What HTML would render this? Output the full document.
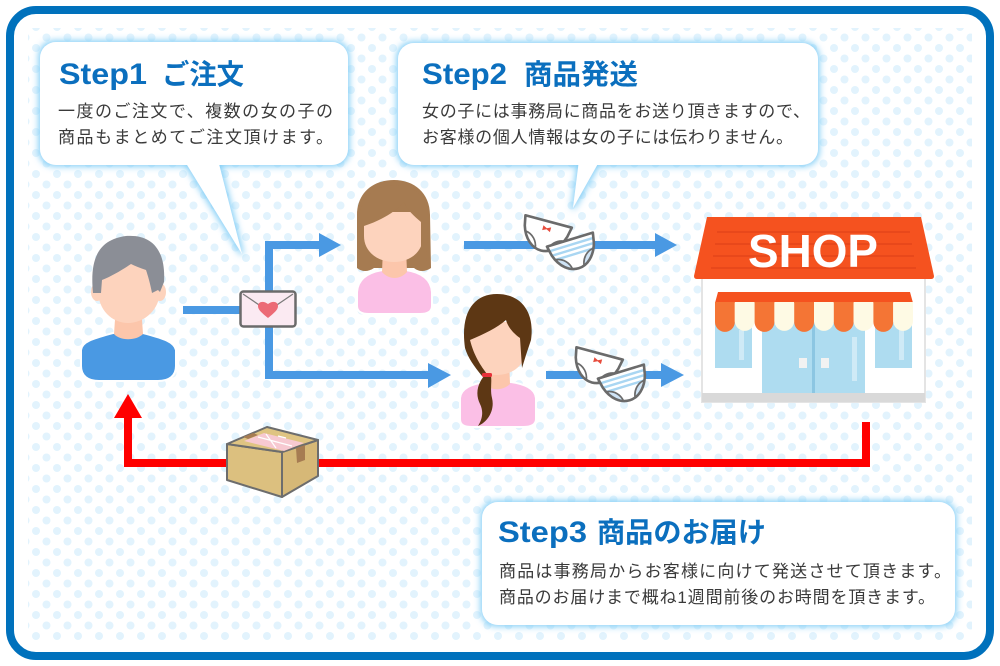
<!DOCTYPE html>
<html><head><meta charset="utf-8">
<style>
html,body{margin:0;padding:0;background:#fff;}
svg{display:block;}
.t{font-family:"Liberation Sans","Noto Sans CJK JP",sans-serif;}
.ttl{fill:#0b6fbe;font-weight:700;}
.bd{fill:#3a3a3a;font-size:17px;font-family:"Liberation Sans","Noto Sans CJK JP",sans-serif;}
</style></head>
<body>
<svg width="1000" height="666" viewBox="0 0 1000 666" xmlns="http://www.w3.org/2000/svg">
<defs>
  <pattern id="dots" x="0" y="0" width="21" height="21" patternUnits="userSpaceOnUse">
    <circle cx="15" cy="6" r="4" fill="#e2f3fd"/>
    <circle cx="4.5" cy="16.5" r="4" fill="#e2f3fd"/>
  </pattern>
  <filter id="glow" x="-10%" y="-20%" width="120%" height="140%">
    <feMorphology in="SourceAlpha" operator="dilate" radius="1.5" result="d"/>
    <feGaussianBlur in="d" stdDeviation="3.5" result="b"/>
    <feFlood flood-color="#7fcdf6"/>
    <feComposite in2="b" operator="in" result="g"/>
    <feMerge><feMergeNode in="g"/><feMergeNode in="SourceGraphic"/></feMerge>
  </filter>
  <clipPath id="pbc"><path d="M-24,-14 L24,-14 L22,-4 C18,9 9,16 0,16 C-9,16 -18,9 -22,-4 Z"/></clipPath>
  <g id="pw">
    <path d="M-24,-14 L24,-14 L22,-4 C18,9 9,16 0,16 C-9,16 -18,9 -22,-4 Z" fill="#fff" stroke="#6b6b6b" stroke-width="2.6" stroke-linejoin="round"/>
    <path d="M-20,1 C-12,2 -7,8 -6,15" fill="none" stroke="#6b6b6b" stroke-width="1.7"/>
    <path d="M20,1 C12,2 7,8 6,15" fill="none" stroke="#6b6b6b" stroke-width="1.7"/>
  </g>
  <g id="pb">
    <path d="M-24,-14 L24,-14 L22,-4 C18,9 9,16 0,16 C-9,16 -18,9 -22,-4 Z" fill="#fff"/>
    <g clip-path="url(#pbc)">
      <rect x="-25" y="-10" width="50" height="2.4" fill="#a9d6f2"/>
      <rect x="-25" y="-5" width="50" height="2.4" fill="#a9d6f2"/>
      <rect x="-25" y="0" width="50" height="2.4" fill="#a9d6f2"/>
      <path d="M-23,2 C-12,2 -7,8 -6,17 L6,17 C7,8 12,2 23,2 L23,18 L-23,18 Z" fill="#cfe4f6"/>
    </g>
    <path d="M-24,-14 L24,-14 L22,-4 C18,9 9,16 0,16 C-9,16 -18,9 -22,-4 Z" fill="none" stroke="#6b6b6b" stroke-width="2.6" stroke-linejoin="round"/>
    <path d="M-20,1 C-12,2 -7,8 -6,15" fill="none" stroke="#6b6b6b" stroke-width="1.7"/>
    <path d="M20,1 C12,2 7,8 6,15" fill="none" stroke="#6b6b6b" stroke-width="1.7"/>
  </g>
</defs>

<!-- frame -->
<rect x="10" y="10" width="980" height="646" rx="26" ry="26" fill="#fff" stroke="#0071bc" stroke-width="8"/>
<rect x="28" y="28" width="944" height="612" fill="url(#dots)"/>

<!-- Step1 bubble -->
<g filter="url(#glow)">
  <rect x="40" y="42" width="308" height="123" rx="16" ry="16" fill="#fff"/>
  <path d="M184,160 L218,160 L242,254 Z" fill="#fff"/>
</g>
<!-- Step2 bubble -->
<g filter="url(#glow)">
  <rect x="398" y="43" width="420" height="122" rx="16" ry="16" fill="#fff"/>
  <path d="M579,160 L600,160 L573,208 Z" fill="#fff"/>
</g>
<!-- Step3 bubble -->
<g filter="url(#glow)">
  <rect x="482" y="502" width="473" height="123" rx="16" ry="16" fill="#fff"/>
</g>

<!-- texts -->
<text class="t ttl" x="59" y="84" font-size="30" textLength="88" lengthAdjust="spacingAndGlyphs">Step1</text>
<text class="t ttl" x="162" y="84" font-size="28" textLength="82" lengthAdjust="spacingAndGlyphs">ご注文</text>
<text class="bd" x="58" y="117" textLength="275" lengthAdjust="spacing">一度のご注文で、複数の女の子の</text>
<text class="bd" x="58" y="143" textLength="275" lengthAdjust="spacing">商品もまとめてご注文頂けます。</text>

<text class="t ttl" x="422" y="84" font-size="30" textLength="85" lengthAdjust="spacingAndGlyphs">Step2</text>
<text class="t ttl" x="524" y="84" font-size="28" textLength="114" lengthAdjust="spacingAndGlyphs">商品発送</text>
<text class="bd" x="422" y="117" textLength="388" lengthAdjust="spacing">女の子には事務局に商品をお送り頂きますので、</text>
<text class="bd" x="422" y="143" textLength="371" lengthAdjust="spacing">お客様の個人情報は女の子には伝わりません。</text>

<text class="t ttl" x="498" y="542" font-size="30" textLength="89" lengthAdjust="spacingAndGlyphs">Step3</text>
<text class="t ttl" x="597" y="542" font-size="28" textLength="169" lengthAdjust="spacingAndGlyphs">商品のお届け</text>
<text class="bd" x="499" y="577" textLength="452" lengthAdjust="spacing">商品は事務局からお客様に向けて発送させて頂きます。</text>
<text class="bd" x="499" y="603" textLength="436" lengthAdjust="spacing">商品のお届けまで概ね1週間前後のお時間を頂きます。</text>

<!-- blue connectors -->
<g fill="#4a99e3">
  <rect x="183" y="306" width="60" height="8"/>
  <rect x="265" y="241" width="8" height="138"/>
  <rect x="265" y="241" width="56" height="8"/>
  <polygon points="319,233 341,245 319,257"/>
  <rect x="265" y="371" width="166" height="8"/>
  <polygon points="428,363 451,375 428,388"/>
  <rect x="464" y="241" width="193" height="8"/>
  <polygon points="655,233 677,245 655,257"/>
  <rect x="546" y="371" width="117" height="8"/>
  <polygon points="661,363 684,375 661,387"/>
</g>

<!-- red connector -->
<g fill="#ff0000">
  <rect x="862" y="422" width="8" height="45"/>
  <rect x="124" y="459" width="746" height="8"/>
  <rect x="124" y="414" width="8" height="53"/>
  <polygon points="114,418 128,394 142,418"/>
</g>

<!-- envelope -->
<rect x="240.5" y="291.5" width="55" height="35" rx="3" fill="#fbeaf2" stroke="#6b6b6b" stroke-width="2.5"/>
<path d="M243,294 L268,311 L293,294" fill="none" stroke="#7a7a7a" stroke-width="1.2"/>
<path d="M268,318 C262,313 258,310 258,306 C258,302 263,300 268,304 C273,300 278,302 278,306 C278,310 274,313 268,318 Z" fill="#ec6a76"/>

<!-- man -->
<g>
  <path d="M81,350 C82,341 95,338 113,333 L143,333 C161,338 174,341 176,350 L176,366 C176,376 169,381 158,381 L99,381 C88,381 81,376 81,366 Z" fill="#4a99e3" stroke="#fff" stroke-width="2"/>
  <path d="M116,305 L141,305 L143,334 C136,341 120,341 114,334 Z" fill="#fcc6ab"/>
  <ellipse cx="97" cy="292" rx="6" ry="9" fill="#fdd3bd"/>
  <ellipse cx="160" cy="292" rx="6" ry="9" fill="#fdd3bd"/>
  <path d="M98,260 L160,260 L160,290 C160,310 144,323 128,323 C112,323 98,310 98,290 Z" fill="#fdd3bd"/>
  <path d="M93,293 C90,262 96,240 126,236 C152,234 166,250 164,282 L160,292 L158,290 L152,293 C150,283 148,276 146,270 C140,268 135,266 131,264 C122,270 112,276 102,280 L101,293 Z" fill="#8b8e96"/>
</g>

<!-- girl 1 -->
<g>
  <path d="M357,268 L357,215 C357,193 373,180 394,180 C414,180 430,193 430,215 L431,268 C425,272 419,272 414,268 L374,268 C368,272 362,272 357,268 Z" fill="#a67b51"/>
  <path d="M357,292 C358,278 370,272 383,270 L406,270 C419,272 431,278 432,292 L432,306 C432,311 428,314 420,314 L369,314 C361,314 357,311 357,306 Z" fill="#fbbfe6" stroke="#fff" stroke-width="2"/>
  <path d="M383,248 L406,248 L407,272 C400,280 389,280 382,272 Z" fill="#fcc6ab"/>
  <path d="M364,212 L423,212 L423,236 C423,252 410,262 394,262 C378,262 364,252 364,236 Z" fill="#fdd3bd"/>
  <path d="M358,236 C356,205 368,186 394,185 C418,185 430,200 428,225 L426,262 L421,262 L421,222 C414,216 407,210 404,202 C395,212 382,220 364,226 L363,238 Z" fill="#a67b51"/>
</g>

<!-- girl 2 -->
<g>
  <path d="M460,398 C461,388 472,384 485,382 L511,382 C524,384 535,388 536,398 L536,419 C536,425 531,427 523,427 L472,427 C464,427 460,425 460,419 Z" fill="#fbbfe6" stroke="#fff" stroke-width="2"/>
  <path d="M485,358 L509,358 L510,384 C503,391 491,391 484,384 Z" fill="#fcc6ab"/>
  <path d="M467,322 L527,322 L527,346 C527,363 514,375 497,375 C480,375 467,363 467,346 Z" fill="#fdd3bd"/>
  <path d="M465,348 C460,312 474,294 497,294 C521,294 535,312 531,340 L526,355 L522,368 L520,338 C513,333 508,327 506,320 C497,328 484,334 470,340 C474,356 481,366 487,374 L482,376 C474,366 468,358 465,348 Z" fill="#5d3714"/>
  <path d="M484,376 C476,386 476,396 480,404 C484,412 482,420 478,426 C488,422 495,410 492,398 C490,390 492,382 491,376 Z" fill="#5d3714"/>
  <rect x="482" y="373" width="10" height="4" rx="1.5" fill="#e8323a"/>
</g>

<!-- panties pair 1 -->
<g transform="translate(545,235) rotate(15)"><use href="#pw"/><path d="M-4,-9 L0,-7 L4,-9 L4,-4 L0,-6 L-4,-4 Z" fill="#e74c3c"/></g>
<g transform="translate(574,253) rotate(-17)"><use href="#pb"/></g>
<!-- panties pair 2 -->
<g transform="translate(596,367) rotate(15)"><use href="#pw"/><path d="M-4,-9 L0,-7 L4,-9 L4,-4 L0,-6 L-4,-4 Z" fill="#e74c3c"/></g>
<g transform="translate(625,385) rotate(-17)"><use href="#pb"/></g>

<!-- box -->
<g stroke="#6d6d6d" stroke-width="2" stroke-linejoin="round">
  <polygon points="227,444 282,452 282,497 227,480" fill="#dcc07f"/>
  <polygon points="282,452 318,440 318,476 282,497" fill="#d6b877"/>
  <polygon points="227,444 267,427 318,440 282,452" fill="#dfc482"/>
</g>
<polygon points="244,441 264,433 304,443 284,451" fill="#f7c9d1"/>
<path d="M258,437 L292,446 M266,434 L276,448 M278,436 L286,438" stroke="#fff" stroke-width="1.2" fill="none"/>
<polygon points="243,437 253,433 258,435 248,439" fill="#a67c52"/>
<polygon points="296,448 305,445 305,460 297,463" fill="#a67c52"/>

<!-- shop -->
<g>
  <rect x="702" y="276" width="223" height="126" fill="#fff" stroke="#e4e4e4" stroke-width="2"/>
  <rect x="702" y="393" width="223" height="9" fill="#d9d9d9"/>
  <path d="M707,217 L921,217 L934,276 Q934,279 931,279 L697,279 Q694,279 694,276 Z" fill="#f5521f"/>
  <g stroke="#e3441a" stroke-width="1.6">
    <line x1="717" y1="232" x2="910" y2="232"/>
    <line x1="715" y1="244" x2="912" y2="244"/>
    <line x1="713" y1="256" x2="914" y2="256"/>
    <line x1="711" y1="268" x2="916" y2="268"/>
  </g>
  <text x="813" y="267" text-anchor="middle" font-family="Liberation Sans, sans-serif" font-weight="700" font-size="46" fill="#fff" textLength="130" lengthAdjust="spacingAndGlyphs">SHOP</text>
  <rect x="715" y="322" width="37" height="46" fill="#aedcf0"/>
  <rect x="739" y="330" width="5" height="30" fill="#cfeaf6"/>
  <rect x="875" y="322" width="37" height="46" fill="#aedcf0"/>
  <rect x="899" y="330" width="5" height="30" fill="#cfeaf6"/>
  <rect x="762" y="322" width="103" height="71" fill="#aedcf0"/>
  <rect x="812" y="322" width="3" height="71" fill="#8cc6e2"/>
  <rect x="852" y="337" width="5" height="44" fill="#cfeaf6"/>
  <rect x="799" y="358" width="8" height="10" fill="#f2f2f2"/>
  <rect x="821" y="358" width="8" height="10" fill="#f2f2f2"/>
  <polygon points="718,292 910,292 913,303 715,303" fill="#f5521f"/>
  <g>
    <path d="M715,302 h19.8 v20 a9.9,9.9 0 0 1 -19.8,0 Z" fill="#f47535"/>
    <path d="M734.8,302 h19.8 v19 a9.9,9.9 0 0 1 -19.8,0 Z" fill="#fefae4"/>
    <path d="M754.6,302 h19.8 v20 a9.9,9.9 0 0 1 -19.8,0 Z" fill="#f47535"/>
    <path d="M774.4,302 h19.8 v19 a9.9,9.9 0 0 1 -19.8,0 Z" fill="#fefae4"/>
    <path d="M794.2,302 h19.8 v20 a9.9,9.9 0 0 1 -19.8,0 Z" fill="#f47535"/>
    <path d="M814,302 h19.8 v19 a9.9,9.9 0 0 1 -19.8,0 Z" fill="#fefae4"/>
    <path d="M833.8,302 h19.8 v20 a9.9,9.9 0 0 1 -19.8,0 Z" fill="#f47535"/>
    <path d="M853.6,302 h19.8 v19 a9.9,9.9 0 0 1 -19.8,0 Z" fill="#fefae4"/>
    <path d="M873.4,302 h19.8 v20 a9.9,9.9 0 0 1 -19.8,0 Z" fill="#f47535"/>
    <path d="M893.2,302 h19.8 v19 a9.9,9.9 0 0 1 -19.8,0 Z" fill="#fefae4"/>
  </g>
</g>
</svg>
</body></html>
